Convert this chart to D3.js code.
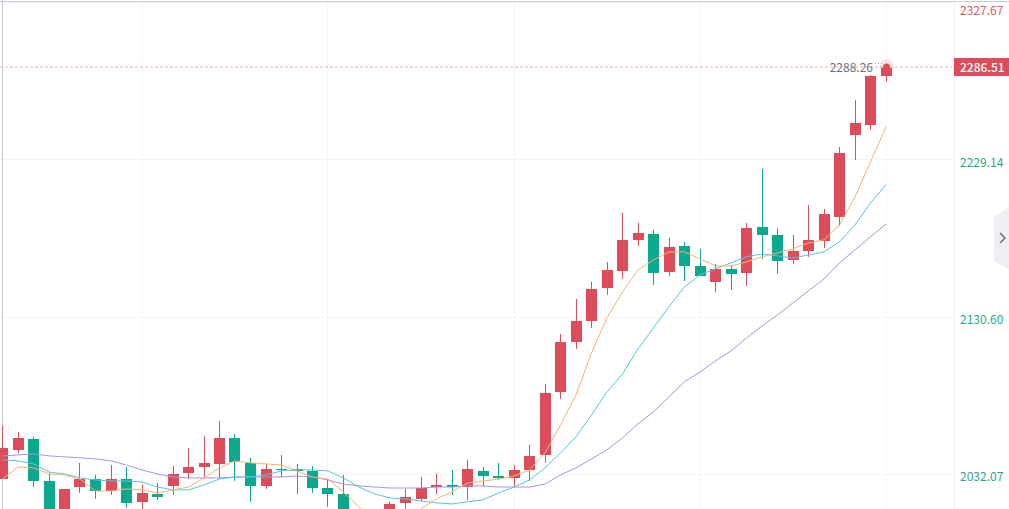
<!DOCTYPE html>
<html>
<head>
<meta charset="utf-8">
<script src="https://cdnjs.cloudflare.com/ajax/libs/d3/7.8.5/d3.min.js"></script>
<style>
  html, body { margin: 0; padding: 0; background: #fff; overflow: hidden; }
  svg { display: block; }
  text { font-family: "Noto Sans CJK SC", "Noto Sans", sans-serif; font-size: 12px; }
</style>
</head>
<body>
<div id="plot"></div>
<script>
const priceTicks = [2327.67, 2229.14, 2130.60, 2032.07];
const gridCandles = [9, 21, 33, 45, 57];
const lastPrice = 2286.51;
const highLabel = 2288.26;

const opens = [2028.9,2047.2,2054.1,2027.7,2008.3,2023.9,2028.9,2021.4,2028.9,2014.6,2019.6,2024.6,2032.7,2036.5,2038.4,2054.7,2039.0,2024.6,2035.2,2035.2,2034.0,2023.3,2019.6,2006.4,2000.2,2006.4,2014.0,2016.5,2023.9,2025.2,2023.9,2034.0,2030.8,2029.6,2034.6,2044.0,2083.5,2114.8,2128.0,2148.6,2159.3,2178.7,2182.5,2158.7,2175.0,2162.4,2152.4,2160.6,2158.0,2186.9,2181.8,2166.2,2171.8,2178.1,2193.1,2244.5,2250.8,2281.4];
const closes = [2048.4,2054.7,2027.7,2008.3,2022.7,2028.9,2021.4,2028.9,2014.0,2020.2,2017.7,2032.1,2036.5,2039.0,2054.7,2039.6,2024.6,2035.2,2034.6,2034.0,2023.3,2019.6,2006.4,2000.2,2006.4,2013.3,2017.7,2023.3,2025.2,2023.9,2035.2,2030.8,2029.6,2034.6,2043.4,2082.9,2114.8,2128.0,2148.0,2159.9,2178.7,2183.1,2158.0,2174.3,2162.4,2156.2,2160.6,2157.4,2186.2,2181.8,2165.6,2171.8,2178.7,2195.0,2233.2,2252.0,2281.4,2286.51];
const highs = [2062.2,2058.4,2055.3,2032.7,2022.7,2039.0,2031.5,2037.7,2036.5,2025.2,2026.4,2037.1,2048.4,2055.9,2065.3,2057.1,2042.2,2038.4,2044.0,2038.4,2037.1,2028.9,2031.5,2008.3,2008.3,2014.6,2022.7,2030.2,2032.1,2034.6,2040.9,2036.5,2039.0,2037.7,2050.3,2088.5,2119.8,2141.8,2152.4,2164.9,2195.6,2189.4,2185.0,2180.0,2177.5,2173.1,2163.7,2163.1,2189.4,2223.2,2186.2,2181.8,2200.6,2198.1,2237.0,2266.4,2282.1,2288.26];
const lows = [2028.9,2045.3,2023.9,2006.4,2006.4,2020.2,2016.5,2018.9,2010.8,2010.2,2015.9,2018.9,2028.9,2030.2,2028.9,2027.7,2014.6,2022.7,2030.2,2019.6,2020.2,2011.5,2003.3,1997.1,1997.1,2003.3,2010.2,2015.2,2019.6,2018.9,2015.9,2024.6,2028.3,2023.9,2027.7,2039.0,2079.1,2110.4,2123.6,2144.3,2154.3,2175.0,2150.5,2156.2,2153.0,2156.2,2146.1,2147.4,2149.9,2166.8,2157.4,2163.7,2168.1,2173.7,2187.5,2228.8,2247.6,2277.7];

const ma5 = [2028.9,2036.5,2035.9,2032.1,2031.5,2028.9,2021.4,2021.4,2022.7,2022.1,2020.2,2022.1,2023.9,2029.6,2035.9,2040.3,2039.0,2038.4,2037.7,2034.0,2030.2,2028.9,2020.8,2011.5,2000.2,1997.1,2003.3,2010.2,2016.5,2020.8,2026.4,2027.7,2028.9,2030.8,2034.6,2045.3,2062.8,2081.6,2107.9,2129.9,2146.1,2159.9,2166.2,2171.2,2171.2,2166.8,2162.4,2162.4,2164.9,2168.1,2170.6,2173.1,2176.8,2178.7,2188.1,2205.6,2227.6,2249.5];
const ma10 = [2040.9,2040.3,2038.4,2033.3,2032.1,2029.6,2028.3,2027.7,2027.7,2027.1,2023.9,2022.1,2022.1,2025.2,2028.9,2030.2,2030.2,2031.5,2034.0,2034.6,2034.6,2034.0,2029.6,2023.9,2019.6,2017.1,2016.5,2015.2,2014.0,2013.3,2014.6,2015.9,2020.2,2023.9,2028.3,2035.9,2045.3,2055.3,2069.1,2083.5,2094.8,2110.4,2123.6,2136.8,2149.3,2156.8,2160.6,2164.3,2168.1,2169.9,2168.7,2167.4,2169.3,2171.2,2177.5,2188.1,2201.9,2213.2];
const ma20 = [2043.4,2044.0,2044.7,2043.4,2042.8,2042.2,2041.5,2040.3,2037.7,2034.6,2032.1,2030.2,2029.6,2029.6,2029.6,2030.2,2030.2,2030.2,2030.2,2030.8,2030.2,2028.3,2025.8,2024.6,2023.9,2023.3,2023.3,2023.3,2023.9,2023.9,2024.6,2024.6,2023.9,2023.9,2023.9,2025.8,2031.5,2035.9,2041.5,2047.2,2054.7,2063.5,2071.0,2080.4,2089.8,2096.0,2102.9,2109.2,2117.3,2124.8,2131.7,2139.3,2146.8,2154.3,2164.3,2172.5,2180.6,2188.7];

const upColor = "#dc4c5a";
const downColor = "#0aa88c";

const width = 1009, height = 509;

const svg = d3.select("div#plot")
  .append("svg")
    .attr("width", width)
    .attr("height", height);

const xScale = d3.scaleLinear()
  .domain([0, opens.length - 1])
  .range([2.5, 886]);

const yScale = d3.scaleLinear()
  .domain([2032.07, 2327.67])
  .range([474, 2.1]);

const px = v => Math.round(xScale(v) - 0.5) + 0.5;
const snap = v => Math.round(yScale(v) - 0.3);

// grid
svg.selectAll(".grid-h")
  .data(priceTicks)
  .enter()
  .append("line")
    .attr("class", "grid-h")
    .attr("x1", 0)
    .attr("x2", 954)
    .attr("y1", d => Math.round(yScale(d)) + 0.5)
    .attr("y2", d => Math.round(yScale(d)) + 0.5)
    .attr("stroke", "#f5f5f8");

svg.selectAll(".grid-v")
  .data(gridCandles)
  .enter()
  .append("line")
    .attr("class", "grid-v")
    .attr("x1", d => px(d))
    .attr("x2", d => px(d))
    .attr("y1", 0)
    .attr("y2", height)
    .attr("stroke", "#f5f5f8");

svg.append("line")
  .attr("x1", 954.5).attr("x2", 954.5)
  .attr("y1", 0).attr("y2", height)
  .attr("stroke", "#f0f0f4");

// top border and the crosshair at the left edge
svg.append("line")
  .attr("x1", 0).attr("x2", width)
  .attr("y1", 1.5).attr("y2", 1.5)
  .attr("stroke", "#cbcbd3");

svg.append("line")
  .attr("x1", 2.5).attr("x2", 2.5)
  .attr("y1", 0).attr("y2", height)
  .attr("stroke", "#c9c6d6");

// last price line
svg.append("line")
  .attr("x1", 0).attr("x2", 954)
  .attr("y1", 67)
  .attr("y2", 67)
  .attr("stroke", "#f7acb3")
  .attr("stroke-dasharray", "3,2");

// candles
const candles = d3.range(opens.length);
const candleColor = i => closes[i] >= opens[i] ? upColor : downColor;

svg.selectAll(".wick")
  .data(candles)
  .enter()
  .append("line")
    .attr("class", "wick")
    .attr("x1", i => px(i))
    .attr("x2", i => px(i))
    .attr("y1", i => yScale(highs[i]))
    .attr("y2", i => yScale(lows[i]))
    .attr("stroke", candleColor);

svg.selectAll(".body")
  .data(candles)
  .enter()
  .append("rect")
    .attr("class", "body")
    .attr("x", i => px(i) - 5.5)
    .attr("width", 11)
    .attr("y", i => snap(Math.max(opens[i], closes[i])))
    .attr("height", i => Math.max(1, snap(Math.min(opens[i], closes[i])) - snap(Math.max(opens[i], closes[i]))))
    .attr("fill", candleColor);

// moving averages
const maLine = d3.line()
  .x((d, i) => xScale(i))
  .y(d => yScale(d));

[[ma20, "#ab93e2"], [ma10, "#50c8de"], [ma5, "#f9b273"]].forEach(([values, color]) => {
  svg.append("path")
    .attr("d", maLine(values))
    .attr("fill", "none")
    .attr("stroke", color)
    .attr("stroke-width", 1);
});

// pulse on the last candle
svg.append("circle")
  .attr("cx", px(57))
  .attr("cy", 66)
  .attr("r", 7)
  .attr("fill", upColor)
  .attr("opacity", 0.14);

svg.append("circle")
  .attr("cx", px(57))
  .attr("cy", 67)
  .attr("r", 3.5)
  .attr("fill", upColor);

// highest price marker
svg.append("text")
  .attr("x", 873)
  .attr("y", 72)
  .attr("text-anchor", "end")
  .attr("fill", "#6d7080")
  .text(highLabel.toFixed(2));

svg.append("line")
  .attr("x1", 875).attr("x2", 882)
  .attr("y1", 63.5).attr("y2", 63.5)
  .attr("stroke", "#a9abb8")
  .attr("stroke-dasharray", "1,2");

// price axis
const yAxis = d3.axisRight(yScale)
  .tickValues(priceTicks)
  .tickSize(0)
  .tickPadding(0)
  .tickFormat(d => d.toFixed(2));

const axisG = svg.append("g")
  .attr("transform", "translate(960, 0)")
  .call(yAxis);

axisG.select(".domain").remove();

axisG.selectAll("text")
  .attr("x", 0)
  .attr("y", d => d === priceTicks[0] ? 9 : 3)
  .attr("fill", d => d >= lastPrice ? "#e25563" : "#1fa98c");

// last price tag
svg.append("rect")
  .attr("x", 954)
  .attr("y", 58)
  .attr("width", 55)
  .attr("height", 18)
  .attr("fill", upColor);

svg.append("text")
  .attr("x", 960)
  .attr("y", 72)
  .attr("fill", "#fff")
  .style("font-weight", 500)
  .text(lastPrice.toFixed(2));

// side tab
svg.append("path")
  .attr("d", "M1009,207 L994,217 L994,261 L1009,270 Z")
  .attr("fill", "#eeeef3");

svg.append("path")
  .attr("d", "M1000,233 L1005,238 L1000,243")
  .attr("fill", "none")
  .attr("stroke", "#6b6f80")
  .attr("stroke-width", 1.5);
</script>
</body>
</html>
